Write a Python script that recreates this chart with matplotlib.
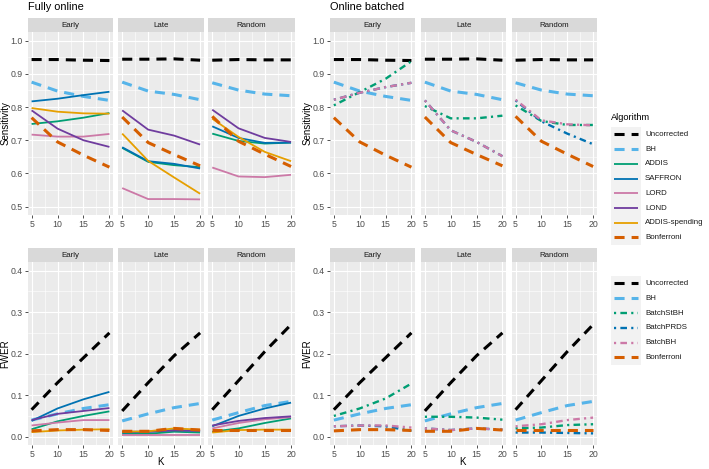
import numpy as np
import matplotlib
matplotlib.use('Agg')
import matplotlib.pyplot as plt
from matplotlib.patches import Rectangle

plt.rcParams['font.family'] = ['Liberation Sans', 'DejaVu Sans']

W, H = 709, 469

# ---- data (rows: Early, Late, Random; columns: K) ----
K = [5, 10, 15, 20]
facets = ['Early', 'Late', 'Random']

online_algs = ['Uncorrected', 'BH', 'ADDIS', 'SAFFRON', 'LORD', 'LOND', 'ADDIS-spending', 'Bonferroni']
batch_algs = ['Uncorrected', 'BH', 'BatchStBH', 'BatchPRDS', 'BatchBH', 'Bonferroni']

sens_uncorrected = [[0.943, 0.943, 0.941, 0.940], [0.944, 0.944, 0.945, 0.941], [0.941, 0.943, 0.942, 0.942]]
sens_bh = [[0.875, 0.848, 0.832, 0.820], [0.875, 0.848, 0.838, 0.822], [0.873, 0.851, 0.839, 0.834]]
sens_addis = [[0.749, 0.757, 0.768, 0.782], [0.677, 0.635, 0.625, 0.619], [0.720, 0.698, 0.690, 0.693]]
sens_saffron = [[0.817, 0.825, 0.836, 0.846], [0.679, 0.637, 0.629, 0.615], [0.742, 0.707, 0.692, 0.693]]
sens_lord = [[0.717, 0.711, 0.711, 0.719], [0.556, 0.523, 0.523, 0.522], [0.618, 0.591, 0.589, 0.596]]
sens_lond = [[0.790, 0.735, 0.700, 0.680], [0.790, 0.732, 0.714, 0.687], [0.792, 0.736, 0.707, 0.695]]
sens_addis_sp = [[0.797, 0.786, 0.781, 0.780], [0.720, 0.638, 0.588, 0.539], [0.765, 0.710, 0.665, 0.637]]
sens_bonferroni = [[0.768, 0.695, 0.655, 0.619], [0.770, 0.693, 0.657, 0.623], [0.772, 0.697, 0.658, 0.621]]
sens_batchstbh = [[0.805, 0.845, 0.885, 0.938], [0.803, 0.766, 0.766, 0.774], [0.805, 0.758, 0.746, 0.746]]
sens_batchprds = [[0.822, 0.843, 0.860, 0.873], [0.820, 0.730, 0.695, 0.652], [0.820, 0.757, 0.720, 0.688]]
sens_batchbh = [[0.822, 0.843, 0.860, 0.873], [0.820, 0.730, 0.695, 0.652], [0.822, 0.760, 0.748, 0.745]]

fwer_uncorrected = [[0.065, 0.130, 0.190, 0.250], [0.062, 0.130, 0.195, 0.250], [0.065, 0.135, 0.205, 0.270]]
fwer_bh = [[0.040, 0.055, 0.068, 0.077], [0.038, 0.055, 0.070, 0.080], [0.040, 0.058, 0.075, 0.085]]
fwer_addis = [[0.018, 0.037, 0.050, 0.061], [0.007, 0.007, 0.012, 0.010], [0.012, 0.020, 0.033, 0.044]]
fwer_saffron = [[0.038, 0.068, 0.090, 0.108], [0.010, 0.012, 0.016, 0.014], [0.025, 0.050, 0.068, 0.082]]
fwer_lord = [[0.027, 0.034, 0.040, 0.040], [0.003, 0.003, 0.003, 0.003], [0.020, 0.033, 0.042, 0.047]]
fwer_lond = [[0.040, 0.055, 0.062, 0.069], [0.012, 0.012, 0.015, 0.014], [0.027, 0.038, 0.045, 0.049]]
fwer_addis_sp = [[0.011, 0.015, 0.017, 0.018], [0.012, 0.013, 0.020, 0.017], [0.010, 0.016, 0.017, 0.017]]
fwer_bonferroni = [[0.014, 0.017, 0.017, 0.015], [0.013, 0.013, 0.020, 0.016], [0.017, 0.017, 0.017, 0.017]]
fwer_batchstbh = [[0.050, 0.068, 0.092, 0.128], [0.048, 0.048, 0.046, 0.041], [0.020, 0.022, 0.028, 0.030]]
fwer_batchprds = [[0.025, 0.027, 0.025, 0.014], [0.020, 0.016, 0.020, 0.017], [0.010, 0.010, 0.009, 0.008]]
fwer_batchbh = [[0.025, 0.027, 0.027, 0.022], [0.020, 0.016, 0.020, 0.017], [0.025, 0.030, 0.040, 0.046]]

sens_online = dict(zip(online_algs, [sens_uncorrected, sens_bh, sens_addis, sens_saffron, sens_lord,
                                     sens_lond, sens_addis_sp, sens_bonferroni]))
fwer_online = dict(zip(online_algs, [fwer_uncorrected, fwer_bh, fwer_addis, fwer_saffron, fwer_lord,
                                     fwer_lond, fwer_addis_sp, fwer_bonferroni]))
sens_batch = dict(zip(batch_algs, [sens_uncorrected, sens_bh, sens_batchstbh, sens_batchprds,
                                   sens_batchbh, sens_bonferroni]))
fwer_batch = dict(zip(batch_algs, [fwer_uncorrected, fwer_bh, fwer_batchstbh, fwer_batchprds,
                                   fwer_batchbh, fwer_bonferroni]))

# ---- styles ----
DASH = (3.3, 2.3)
DOTDASH = (0.9, 1.8, 2.8, 1.8)
style = {
    'Uncorrected': dict(color='black', lw=2.2, dashes=DASH),
    'BH': dict(color='#56B4E9', lw=2.2, dashes=DASH),
    'ADDIS': dict(color='#009E73', lw=1.3),
    'SAFFRON': dict(color='#0072B2', lw=1.3),
    'LORD': dict(color='#CC79A7', lw=1.3),
    'LOND': dict(color='#6F3C9E', lw=1.3),
    'ADDIS-spending': dict(color='#E69F00', lw=1.3),
    'Bonferroni': dict(color='#D55E00', lw=2.2, dashes=DASH),
    'BatchStBH': dict(color='#009E73', lw=1.7, dashes=DOTDASH),
    'BatchPRDS': dict(color='#0072B2', lw=1.7, dashes=DOTDASH),
    'BatchBH': dict(color='#CC79A7', lw=1.7, dashes=DOTDASH),
}

fig = plt.figure(figsize=(W / 100, H / 100), dpi=100)


def box(x0, y0, x1, y1):
    return [x0 / W, 1 - y1 / H, (x1 - x0) / W, (y1 - y0) / H]


def panel(xr, strip_y, panel_y, data, algs, ylim, yticks, yminor, facet_i, show_y):
    sax = fig.add_axes(box(xr[0], strip_y[0], xr[1], strip_y[1]))
    sax.set_facecolor('#D9D9D9')
    sax.set_xticks([])
    sax.set_yticks([])
    for s in sax.spines.values():
        s.set_visible(False)
    sax.text(0.5, 0.47, facets[facet_i], ha='center', va='center', fontsize=5.7,
             color='#1A1A1A', transform=sax.transAxes)
    ax = fig.add_axes(box(xr[0], panel_y[0], xr[1], panel_y[1]))
    ax.set_facecolor('#EBEBEB')
    for s in ax.spines.values():
        s.set_visible(False)
    ax.set_xlim(4.25, 20.75)
    ax.set_ylim(*ylim)
    ax.set_xticks(K)
    ax.set_xticks([7.5, 12.5, 17.5], minor=True)
    ax.set_yticks(yticks)
    ax.set_yticks(yminor, minor=True)
    ax.grid(which='major', color='white', lw=0.8)
    ax.grid(which='minor', color='white', lw=0.4)
    ax.set_axisbelow(True)
    ax.tick_params(which='major', length=2.2, width=0.6, color='#333333', labelsize=6.3,
                   labelcolor='#4D4D4D', pad=1.5)
    ax.tick_params(which='minor', length=0)
    ax.yaxis.set_major_formatter(lambda v, p: '%.1f' % v)
    if not show_y:
        ax.tick_params(axis='y', which='major', length=0, labelleft=False)
    for a in algs:
        ax.plot(K, data[a][facet_i], solid_capstyle='butt', dash_capstyle='butt', **style[a])
    return ax


left_x = [(27.7, 113.3), (118.3, 204.0), (208.3, 295.0)]
right_x = [(330.0, 415.3), (421.0, 506.3), (511.7, 597.0)]
top_strip, top_panel = (18.3, 32.3), (32.3, 215.0)
bot_strip, bot_panel = (248.3, 262.3), (262.3, 445.0)

sens_ticks = [0.5, 0.6, 0.7, 0.8, 0.9, 1.0]
sens_minor = [0.55, 0.65, 0.75, 0.85, 0.95]
fwer_ticks = [0.0, 0.1, 0.2, 0.3, 0.4]
fwer_minor = [0.05, 0.15, 0.25, 0.35]

for i in range(3):
    panel(left_x[i], top_strip, top_panel, sens_online, online_algs, (0.475, 1.025),
          sens_ticks, sens_minor, i, i == 0)
    panel(right_x[i], top_strip, top_panel, sens_batch, batch_algs, (0.475, 1.025),
          sens_ticks, sens_minor, i, i == 0)
    panel(left_x[i], bot_strip, bot_panel, fwer_online, online_algs, (-0.02, 0.42),
          fwer_ticks, fwer_minor, i, i == 0)
    panel(right_x[i], bot_strip, bot_panel, fwer_batch, batch_algs, (-0.02, 0.42),
          fwer_ticks, fwer_minor, i, i == 0)

# titles and axis labels
fig.text(28 / W, 1 - 7.5 / H, 'Fully online', fontsize=7.9, va='center', ha='left', color='black')
fig.text(330 / W, 1 - 7.5 / H, 'Online batched', fontsize=7.9, va='center', ha='left', color='black')
for x in (5.5, 307.5):
    fig.text(x / W, 1 - 123.5 / H, 'Sensitivity', rotation=90, fontsize=7.0, va='center', ha='center')
    fig.text(x / W, 1 - 353.5 / H, 'FWER', rotation=90, fontsize=7.0, va='center', ha='center')
fig.text(161 / W, 1 - 462 / H, 'K', fontsize=7.0, va='center', ha='center')
fig.text(463 / W, 1 - 462 / H, 'K', fontsize=7.0, va='center', ha='center')

# legends drawn in a pixel-space overlay
lax = fig.add_axes([0, 0, 1, 1])
lax.set_xlim(0, W)
lax.set_ylim(H, 0)
lax.axis('off')
lax.text(611, 117, 'Algorithm', fontsize=6.7, va='center', ha='left')


def legend(entries, y0, step):
    lax.add_patch(Rectangle((611, y0 - 7.5), 29.5, step * len(entries), facecolor='#F2F2F2',
                            edgecolor='none'))
    for j, name in enumerate(entries):
        y = y0 + j * step
        lax.plot([613.5, 638], [y, y], solid_capstyle='butt', dash_capstyle='butt', **style[name])
        lax.text(645, y, name, fontsize=5.7, va='center', ha='left', color='#1A1A1A')


legend(online_algs, 134.5, 14.7)
legend(batch_algs, 283.5, 14.8)

fig.savefig('out.png', dpi=100)
